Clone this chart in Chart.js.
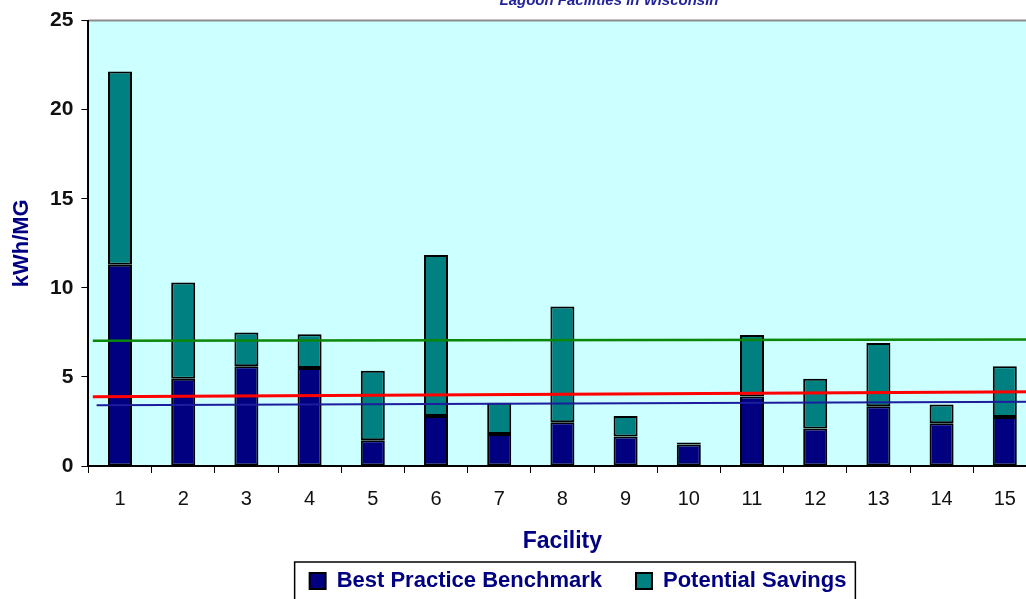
<!DOCTYPE html>
<html>
<head>
<meta charset="utf-8">
<title>Lagoon Facilities in Wisconsin</title>
<script src="https://cdn.jsdelivr.net/npm/chart.js@4.4.1/dist/chart.umd.min.js"></script>
<style>
    html, body { margin: 0; padding: 0; background: #fff; overflow: hidden; width: 1026px; height: 599px; }
    #wrap { position: absolute; left: 0; top: 0; }
</style>
</head>
<body>
<div id="wrap"><canvas id="benchChart" width="1160" height="620"></canvas></div>
<script>
// values (kWh/MG)
const facilities = ['1', '2', '3', '4', '5', '6', '7', '8', '9', '10', '11', '12', '13', '14', '15'];
const benchmark = [11.3, 4.9, 5.6, 5.5, 1.45, 2.8, 1.8, 2.45, 1.65, 1.2, 3.9, 2.1, 3.35, 2.4, 2.75];
const savings = [10.85, 5.4, 1.9, 1.9, 3.9, 9.05, 1.75, 6.5, 1.15, 0.12, 3.45, 2.8, 3.55, 1.05, 2.85];
const yTicks = [0, 5, 10, 15, 20, 25];

// the three reference lines, as (facility position, kWh/MG) end points
const greenLineX = [0.57, 15.5];
const greenLineY = [7.03, 7.1];
const redLineX = [0.57, 15.5];
const redLineY = [3.88, 4.17];
const blueLineX = [0.63, 15.5];
const blueLineY = [3.41, 3.6];

const chartTitle = 'Lagoon Facilities in Wisconsin';
const fontFamily = "'Liberation Sans', Arial, Helvetica, sans-serif";
const navy = '#000080';

function toPoints(xs, ys) {
    return xs.map((x, i) => ({ x: x, y: ys[i] }));
}

// cyan plot area with grey top edge
const plotBackground = {
    id: 'plotBackground',
    beforeDraw(chart) {
        const { ctx, chartArea } = chart;
        ctx.save();
        ctx.fillStyle = '#CCFFFF';
        ctx.fillRect(chartArea.left, chartArea.top, chartArea.right - chartArea.left, chartArea.bottom - chartArea.top);
        ctx.strokeStyle = '#8c8c8c';
        ctx.lineWidth = 2;
        ctx.beginPath();
        ctx.moveTo(chartArea.left, chartArea.top);
        ctx.lineTo(chartArea.right, chartArea.top);
        ctx.stroke();
        ctx.restore();
    }
};

// clipped title at the top and the frame round the legend
const extras = {
    id: 'extras',
    afterDraw(chart) {
        const ctx = chart.ctx;
        ctx.save();
        ctx.font = 'italic bold 15px ' + fontFamily;
        ctx.fillStyle = '#24249a';
        ctx.textAlign = 'center';
        ctx.textBaseline = 'alphabetic';
        ctx.fillText(chartTitle, 609, 5);

        const boxes = chart.legend.legendHitBoxes;
        if (boxes && boxes.length) {
            const first = boxes[0];
            const last = boxes[boxes.length - 1];
            const left = first.left - 15;
            const right = last.left + last.width + 9;
            const top = first.top - 8;
            ctx.strokeStyle = '#000';
            ctx.lineWidth = 1.5;
            ctx.strokeRect(left, top, right - left, 80);
        }
        ctx.restore();
    }
};

const ctx = document.getElementById('benchChart').getContext('2d');
new Chart(ctx, {
    type: 'bar',
    data: {
        labels: facilities,
        datasets: [
            {
                label: 'Best Practice Benchmark',
                data: benchmark,
                backgroundColor: navy,
                borderColor: '#000',
                borderWidth: 2,
                borderSkipped: false,
                grouped: false,
                stack: 'facility',
                barPercentage: 0.38,
                categoryPercentage: 1,
                order: 1
            },
            {
                label: 'Potential Savings',
                data: savings,
                backgroundColor: '#008080',
                borderColor: '#000',
                borderWidth: 2,
                borderSkipped: false,
                grouped: false,
                stack: 'facility',
                barPercentage: 0.38,
                categoryPercentage: 1,
                order: 1
            },
            {
                type: 'line',
                label: 'green',
                data: toPoints(greenLineX, greenLineY),
                xAxisID: 'xLine',
                stack: 'g',
                borderColor: '#0a860a',
                borderWidth: 2.5,
                pointRadius: 0,
                order: 0
            },
            {
                type: 'line',
                label: 'red',
                data: toPoints(redLineX, redLineY),
                xAxisID: 'xLine',
                stack: 'r',
                borderColor: '#ff0000',
                borderWidth: 3,
                pointRadius: 0,
                order: 0
            },
            {
                type: 'line',
                label: 'blue',
                data: toPoints(blueLineX, blueLineY),
                xAxisID: 'xLine',
                stack: 'b',
                borderColor: '#1c1c9c',
                borderWidth: 2,
                pointRadius: 0,
                order: 0
            }
        ]
    },
    options: {
        responsive: false,
        animation: false,
        devicePixelRatio: 1,
        layout: { padding: { top: 19, left: 0, right: 4, bottom: 18 } },
        plugins: {
            title: { display: false },
            tooltip: { enabled: false },
            legend: {
                position: 'bottom',
                labels: {
                    filter: item => item.datasetIndex < 2,
                    boxWidth: 16,
                    boxHeight: 16,
                    padding: 34,
                    color: navy,
                    font: { family: fontFamily, size: 22, weight: 'bold' }
                }
            }
        },
        scales: {
            x: {
                stacked: true,
                offset: true,
                grid: { display: true, drawOnChartArea: false, drawTicks: true, tickLength: 7, color: '#000', offset: true },
                border: { display: true, color: '#000', width: 2 },
                ticks: {
                    color: '#111',
                    padding: 14,
                    autoSkip: false,
                    maxRotation: 0,
                    font: { family: fontFamily, size: 20 }
                },
                title: {
                    display: true,
                    text: 'Facility',
                    color: navy,
                    padding: { top: 0, bottom: -19.8 },
                    font: { family: fontFamily, size: 23, weight: 'bold', lineHeight: 1.2 }
                },
                afterFit: scale => { scale.height = 70; }
            },
            xLine: {
                type: 'linear',
                display: false,
                offset: false,
                min: 0.5,
                max: 15.5
            },
            y: {
                stacked: true,
                min: 0,
                max: 25,
                afterBuildTicks: scale => { scale.ticks = yTicks.map(v => ({ value: v })); },
                grid: { display: true, drawOnChartArea: false, drawTicks: true, tickLength: 7, color: '#000' },
                border: { display: true, color: '#000', width: 2 },
                ticks: {
                    color: '#111',
                    padding: 8,
                    font: { family: fontFamily, size: 21, weight: 'bold' }
                },
                title: {
                    display: true,
                    text: 'kWh/MG',
                    color: navy,
                    padding: { top: 9, bottom: 0 },
                    font: { family: fontFamily, size: 22, weight: 'bold', lineHeight: 1.2 }
                },
                afterFit: scale => { scale.width = 88.4; }
            },
            yPad: {
                type: 'linear',
                position: 'right',
                display: true,
                grid: { display: false, drawTicks: false },
                border: { display: false },
                ticks: { display: false },
                afterFit: scale => { scale.width = 119.6; }
            }
        }
    },
    plugins: [plotBackground, extras]
});
</script>
</body>
</html>
